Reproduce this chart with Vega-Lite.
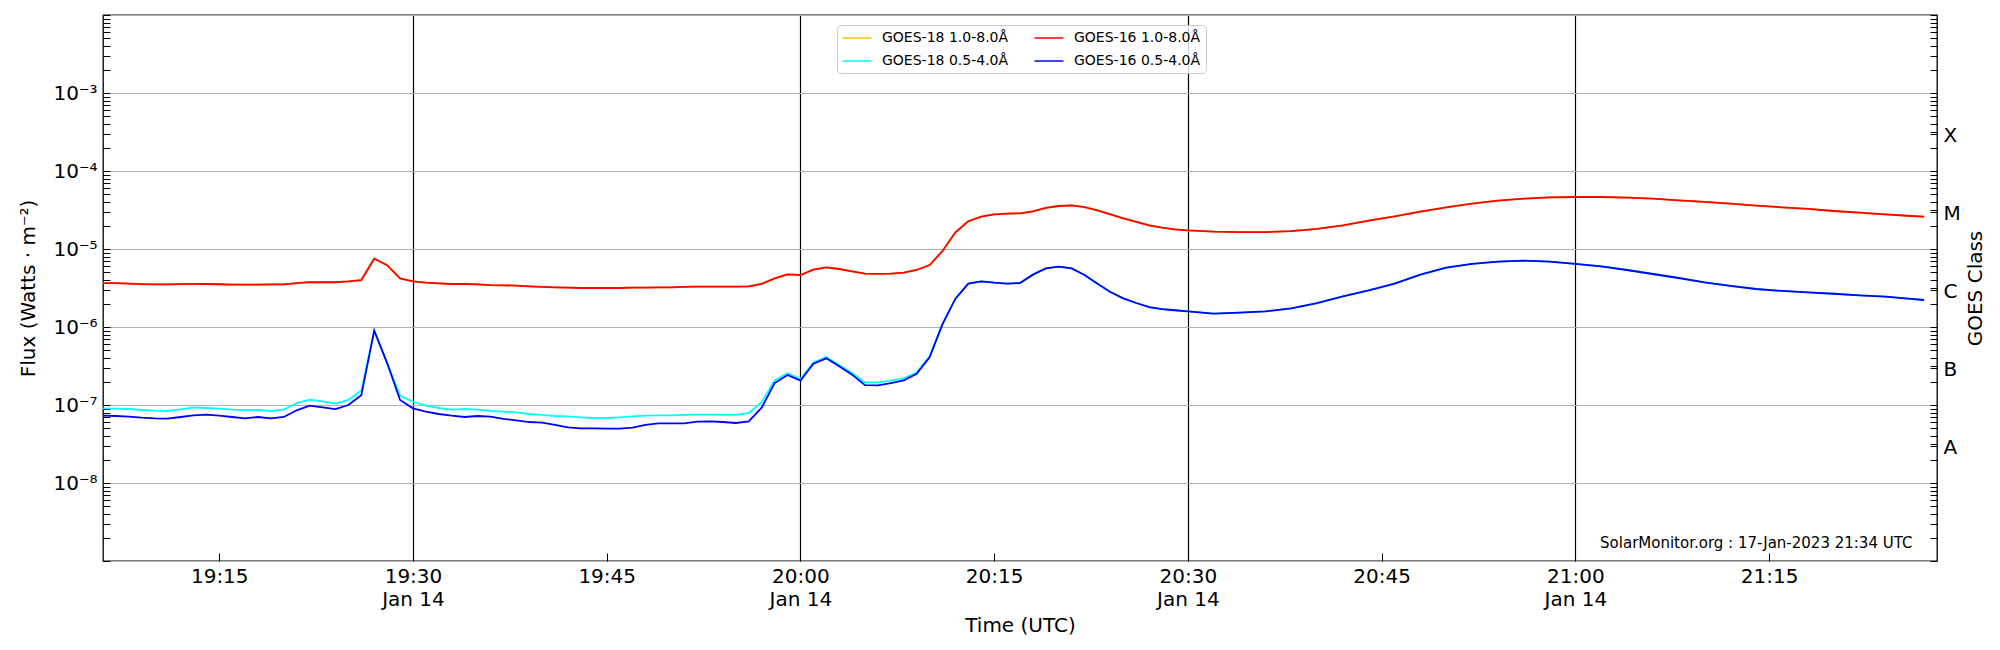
{
  "$schema": "https://vega.github.io/schema/vega-lite/v6.json",
  "description": "GOES X-ray flux, 14 Jan 2023 (SolarMonitor.org)",
  "width": 1834,
  "height": 546,
  "autosize": {"type": "none"},
  "padding": {"left": 103, "top": 15, "right": 63, "bottom": 89},
  "background": "white",
  "data": {
    "values": [
      {"t": "2023-01-14T19:06:00Z", "l16": 3.65e-6, "s16": 7.29e-8, "l18": 3.65e-6, "s18": 9.06e-8},
      {"t": "2023-01-14T19:07:00Z", "l16": 3.65e-6, "s16": 7.23e-8, "l18": 3.65e-6, "s18": 8.97e-8},
      {"t": "2023-01-14T19:08:00Z", "l16": 3.6e-6, "s16": 7.08e-8, "l18": 3.6e-6, "s18": 8.88e-8},
      {"t": "2023-01-14T19:09:00Z", "l16": 3.55e-6, "s16": 6.88e-8, "l18": 3.55e-6, "s18": 8.63e-8},
      {"t": "2023-01-14T19:10:00Z", "l16": 3.52e-6, "s16": 6.75e-8, "l18": 3.52e-6, "s18": 8.46e-8},
      {"t": "2023-01-14T19:11:00Z", "l16": 3.52e-6, "s16": 6.68e-8, "l18": 3.52e-6, "s18": 8.38e-8},
      {"t": "2023-01-14T19:12:00Z", "l16": 3.55e-6, "s16": 7.02e-8, "l18": 3.55e-6, "s18": 8.8e-8},
      {"t": "2023-01-14T19:13:00Z", "l16": 3.57e-6, "s16": 7.37e-8, "l18": 3.57e-6, "s18": 9.33e-8},
      {"t": "2023-01-14T19:14:00Z", "l16": 3.56e-6, "s16": 7.52e-8, "l18": 3.56e-6, "s18": 9.15e-8},
      {"t": "2023-01-14T19:15:00Z", "l16": 3.53e-6, "s16": 7.29e-8, "l18": 3.53e-6, "s18": 8.97e-8},
      {"t": "2023-01-14T19:16:00Z", "l16": 3.5e-6, "s16": 7.02e-8, "l18": 3.5e-6, "s18": 8.7e-8},
      {"t": "2023-01-14T19:17:00Z", "l16": 3.5e-6, "s16": 6.75e-8, "l18": 3.5e-6, "s18": 8.63e-8},
      {"t": "2023-01-14T19:18:00Z", "l16": 3.5e-6, "s16": 7.02e-8, "l18": 3.5e-6, "s18": 8.63e-8},
      {"t": "2023-01-14T19:19:00Z", "l16": 3.52e-6, "s16": 6.75e-8, "l18": 3.52e-6, "s18": 8.38e-8},
      {"t": "2023-01-14T19:20:00Z", "l16": 3.52e-6, "s16": 7.02e-8, "l18": 3.52e-6, "s18": 8.7e-8},
      {"t": "2023-01-14T19:21:00Z", "l16": 3.65e-6, "s16": 8.55e-8, "l18": 3.65e-6, "s18": 1.06e-7},
      {"t": "2023-01-14T19:22:00Z", "l16": 3.75e-6, "s16": 9.8e-8, "l18": 3.75e-6, "s18": 1.17e-7},
      {"t": "2023-01-14T19:23:00Z", "l16": 3.75e-6, "s16": 9.33e-8, "l18": 3.75e-6, "s18": 1.11e-7},
      {"t": "2023-01-14T19:24:00Z", "l16": 3.75e-6, "s16": 8.88e-8, "l18": 3.75e-6, "s18": 1.04e-7},
      {"t": "2023-01-14T19:25:00Z", "l16": 3.85e-6, "s16": 1.0e-7, "l18": 3.85e-6, "s18": 1.16e-7},
      {"t": "2023-01-14T19:26:00Z", "l16": 4.0e-6, "s16": 1.33e-7, "l18": 4.0e-6, "s18": 1.53e-7},
      {"t": "2023-01-14T19:27:00Z", "l16": 7.5e-6, "s16": 8.97e-7, "l18": 7.5e-6, "s18": 8.97e-7},
      {"t": "2023-01-14T19:28:00Z", "l16": 6.2e-6, "s16": 3.45e-7, "l18": 6.2e-6, "s18": 3.45e-7},
      {"t": "2023-01-14T19:29:00Z", "l16": 4.2e-6, "s16": 1.16e-7, "l18": 4.2e-6, "s18": 1.32e-7},
      {"t": "2023-01-14T19:30:00Z", "l16": 3.85e-6, "s16": 9.06e-8, "l18": 3.85e-6, "s18": 1.1e-7},
      {"t": "2023-01-14T19:31:00Z", "l16": 3.7e-6, "s16": 8.22e-8, "l18": 3.7e-6, "s18": 9.8e-8},
      {"t": "2023-01-14T19:32:00Z", "l16": 3.63e-6, "s16": 7.67e-8, "l18": 3.63e-6, "s18": 9.15e-8},
      {"t": "2023-01-14T19:33:00Z", "l16": 3.56e-6, "s16": 7.29e-8, "l18": 3.56e-6, "s18": 8.7e-8},
      {"t": "2023-01-14T19:34:00Z", "l16": 3.56e-6, "s16": 7.02e-8, "l18": 3.56e-6, "s18": 8.88e-8},
      {"t": "2023-01-14T19:35:00Z", "l16": 3.52e-6, "s16": 7.23e-8, "l18": 3.52e-6, "s18": 8.7e-8},
      {"t": "2023-01-14T19:36:00Z", "l16": 3.45e-6, "s16": 7.08e-8, "l18": 3.45e-6, "s18": 8.38e-8},
      {"t": "2023-01-14T19:37:00Z", "l16": 3.42e-6, "s16": 6.62e-8, "l18": 3.42e-6, "s18": 8.22e-8},
      {"t": "2023-01-14T19:38:00Z", "l16": 3.39e-6, "s16": 6.36e-8, "l18": 3.39e-6, "s18": 8.05e-8},
      {"t": "2023-01-14T19:39:00Z", "l16": 3.32e-6, "s16": 6.05e-8, "l18": 3.32e-6, "s18": 7.67e-8},
      {"t": "2023-01-14T19:40:00Z", "l16": 3.26e-6, "s16": 5.94e-8, "l18": 3.26e-6, "s18": 7.45e-8},
      {"t": "2023-01-14T19:41:00Z", "l16": 3.22e-6, "s16": 5.55e-8, "l18": 3.22e-6, "s18": 7.23e-8},
      {"t": "2023-01-14T19:42:00Z", "l16": 3.19e-6, "s16": 5.18e-8, "l18": 3.19e-6, "s18": 7.16e-8},
      {"t": "2023-01-14T19:43:00Z", "l16": 3.16e-6, "s16": 5.03e-8, "l18": 3.16e-6, "s18": 6.95e-8},
      {"t": "2023-01-14T19:44:00Z", "l16": 3.16e-6, "s16": 5.03e-8, "l18": 3.16e-6, "s18": 6.81e-8},
      {"t": "2023-01-14T19:45:00Z", "l16": 3.16e-6, "s16": 4.98e-8, "l18": 3.16e-6, "s18": 6.81e-8},
      {"t": "2023-01-14T19:46:00Z", "l16": 3.16e-6, "s16": 4.98e-8, "l18": 3.16e-6, "s18": 6.95e-8},
      {"t": "2023-01-14T19:47:00Z", "l16": 3.19e-6, "s16": 5.14e-8, "l18": 3.19e-6, "s18": 7.16e-8},
      {"t": "2023-01-14T19:48:00Z", "l16": 3.19e-6, "s16": 5.55e-8, "l18": 3.19e-6, "s18": 7.29e-8},
      {"t": "2023-01-14T19:49:00Z", "l16": 3.22e-6, "s16": 5.82e-8, "l18": 3.22e-6, "s18": 7.38e-8},
      {"t": "2023-01-14T19:50:00Z", "l16": 3.22e-6, "s16": 5.82e-8, "l18": 3.22e-6, "s18": 7.38e-8},
      {"t": "2023-01-14T19:51:00Z", "l16": 3.26e-6, "s16": 5.82e-8, "l18": 3.26e-6, "s18": 7.45e-8},
      {"t": "2023-01-14T19:52:00Z", "l16": 3.29e-6, "s16": 6.11e-8, "l18": 3.29e-6, "s18": 7.52e-8},
      {"t": "2023-01-14T19:53:00Z", "l16": 3.29e-6, "s16": 6.17e-8, "l18": 3.29e-6, "s18": 7.52e-8},
      {"t": "2023-01-14T19:54:00Z", "l16": 3.29e-6, "s16": 6.05e-8, "l18": 3.29e-6, "s18": 7.45e-8},
      {"t": "2023-01-14T19:55:00Z", "l16": 3.29e-6, "s16": 5.88e-8, "l18": 3.29e-6, "s18": 7.45e-8},
      {"t": "2023-01-14T19:56:00Z", "l16": 3.32e-6, "s16": 6.17e-8, "l18": 3.32e-6, "s18": 7.89e-8},
      {"t": "2023-01-14T19:57:00Z", "l16": 3.56e-6, "s16": 9.24e-8, "l18": 3.56e-6, "s18": 1.08e-7},
      {"t": "2023-01-14T19:58:00Z", "l16": 4.21e-6, "s16": 1.91e-7, "l18": 4.21e-6, "s18": 2.07e-7},
      {"t": "2023-01-14T19:59:00Z", "l16": 4.73e-6, "s16": 2.43e-7, "l18": 4.73e-6, "s18": 2.55e-7},
      {"t": "2023-01-14T20:00:00Z", "l16": 4.64e-6, "s16": 2.05e-7, "l18": 4.64e-6, "s18": 2.15e-7},
      {"t": "2023-01-14T20:01:00Z", "l16": 5.43e-6, "s16": 3.39e-7, "l18": 5.43e-6, "s18": 3.52e-7},
      {"t": "2023-01-14T20:02:00Z", "l16": 5.82e-6, "s16": 3.97e-7, "l18": 5.82e-6, "s18": 4.12e-7},
      {"t": "2023-01-14T20:03:00Z", "l16": 5.54e-6, "s16": 3.13e-7, "l18": 5.54e-6, "s18": 3.26e-7},
      {"t": "2023-01-14T20:04:00Z", "l16": 5.17e-6, "s16": 2.45e-7, "l18": 5.17e-6, "s18": 2.57e-7},
      {"t": "2023-01-14T20:05:00Z", "l16": 4.83e-6, "s16": 1.8e-7, "l18": 4.83e-6, "s18": 1.95e-7},
      {"t": "2023-01-14T20:06:00Z", "l16": 4.79e-6, "s16": 1.79e-7, "l18": 4.79e-6, "s18": 1.95e-7},
      {"t": "2023-01-14T20:07:00Z", "l16": 4.83e-6, "s16": 1.91e-7, "l18": 4.83e-6, "s18": 2.05e-7},
      {"t": "2023-01-14T20:08:00Z", "l16": 4.98e-6, "s16": 2.07e-7, "l18": 4.98e-6, "s18": 2.2e-7},
      {"t": "2023-01-14T20:09:00Z", "l16": 5.38e-6, "s16": 2.52e-7, "l18": 5.38e-6, "s18": 2.62e-7},
      {"t": "2023-01-14T20:10:00Z", "l16": 6.23e-6, "s16": 4.08e-7, "l18": 6.23e-6, "s18": 4.2e-7},
      {"t": "2023-01-14T20:11:00Z", "l16": 9.42e-6, "s16": 1.09e-6, "l18": 9.42e-6, "s18": 1.09e-6},
      {"t": "2023-01-14T20:12:00Z", "l16": 1.64e-5, "s16": 2.31e-6, "l18": 1.64e-5, "s18": 2.31e-6},
      {"t": "2023-01-14T20:13:00Z", "l16": 2.27e-5, "s16": 3.59e-6, "l18": 2.27e-5, "s18": 3.59e-6},
      {"t": "2023-01-14T20:14:00Z", "l16": 2.6e-5, "s16": 3.85e-6, "l18": 2.6e-5, "s18": 3.85e-6},
      {"t": "2023-01-14T20:15:00Z", "l16": 2.78e-5, "s16": 3.7e-6, "l18": 2.78e-5, "s18": 3.7e-6},
      {"t": "2023-01-14T20:16:00Z", "l16": 2.84e-5, "s16": 3.59e-6, "l18": 2.84e-5, "s18": 3.59e-6},
      {"t": "2023-01-14T20:17:00Z", "l16": 2.87e-5, "s16": 3.66e-6, "l18": 2.87e-5, "s18": 3.66e-6},
      {"t": "2023-01-14T20:18:00Z", "l16": 3.04e-5, "s16": 4.69e-6, "l18": 3.04e-5, "s18": 4.69e-6},
      {"t": "2023-01-14T20:19:00Z", "l16": 3.36e-5, "s16": 5.65e-6, "l18": 3.36e-5, "s18": 5.65e-6},
      {"t": "2023-01-14T20:20:00Z", "l16": 3.56e-5, "s16": 5.94e-6, "l18": 3.56e-5, "s18": 5.94e-6},
      {"t": "2023-01-14T20:21:00Z", "l16": 3.63e-5, "s16": 5.65e-6, "l18": 3.63e-5, "s18": 5.65e-6},
      {"t": "2023-01-14T20:22:00Z", "l16": 3.45e-5, "s16": 4.64e-6, "l18": 3.45e-5, "s18": 4.64e-6},
      {"t": "2023-01-14T20:23:00Z", "l16": 3.13e-5, "s16": 3.59e-6, "l18": 3.13e-5, "s18": 3.59e-6},
      {"t": "2023-01-14T20:24:00Z", "l16": 2.78e-5, "s16": 2.81e-6, "l18": 2.78e-5, "s18": 2.81e-6},
      {"t": "2023-01-14T20:25:00Z", "l16": 2.47e-5, "s16": 2.33e-6, "l18": 2.47e-5, "s18": 2.33e-6},
      {"t": "2023-01-14T20:26:00Z", "l16": 2.22e-5, "s16": 2.03e-6, "l18": 2.22e-5, "s18": 2.03e-6},
      {"t": "2023-01-14T20:27:00Z", "l16": 2.01e-5, "s16": 1.8e-6, "l18": 2.01e-5, "s18": 1.8e-6},
      {"t": "2023-01-14T20:28:00Z", "l16": 1.88e-5, "s16": 1.7e-6, "l18": 1.88e-5, "s18": 1.7e-6},
      {"t": "2023-01-14T20:29:00Z", "l16": 1.79e-5, "s16": 1.64e-6, "l18": 1.79e-5, "s18": 1.64e-6},
      {"t": "2023-01-14T20:30:00Z", "l16": 1.73e-5, "s16": 1.59e-6, "l18": 1.73e-5, "s18": 1.59e-6},
      {"t": "2023-01-14T20:32:00Z", "l16": 1.67e-5, "s16": 1.48e-6, "l18": 1.67e-5, "s18": 1.48e-6},
      {"t": "2023-01-14T20:34:00Z", "l16": 1.65e-5, "s16": 1.53e-6, "l18": 1.65e-5, "s18": 1.53e-6},
      {"t": "2023-01-14T20:36:00Z", "l16": 1.65e-5, "s16": 1.59e-6, "l18": 1.65e-5, "s18": 1.59e-6},
      {"t": "2023-01-14T20:38:00Z", "l16": 1.7e-5, "s16": 1.73e-6, "l18": 1.7e-5, "s18": 1.73e-6},
      {"t": "2023-01-14T20:40:00Z", "l16": 1.81e-5, "s16": 2.03e-6, "l18": 1.81e-5, "s18": 2.03e-6},
      {"t": "2023-01-14T20:42:00Z", "l16": 2.01e-5, "s16": 2.47e-6, "l18": 2.01e-5, "s18": 2.47e-6},
      {"t": "2023-01-14T20:44:00Z", "l16": 2.31e-5, "s16": 2.95e-6, "l18": 2.31e-5, "s18": 2.95e-6},
      {"t": "2023-01-14T20:46:00Z", "l16": 2.62e-5, "s16": 3.59e-6, "l18": 2.62e-5, "s18": 3.59e-6},
      {"t": "2023-01-14T20:48:00Z", "l16": 3.01e-5, "s16": 4.69e-6, "l18": 3.01e-5, "s18": 4.69e-6},
      {"t": "2023-01-14T20:50:00Z", "l16": 3.42e-5, "s16": 5.77e-6, "l18": 3.42e-5, "s18": 5.77e-6},
      {"t": "2023-01-14T20:52:00Z", "l16": 3.81e-5, "s16": 6.43e-6, "l18": 3.81e-5, "s18": 6.43e-6},
      {"t": "2023-01-14T20:54:00Z", "l16": 4.17e-5, "s16": 6.89e-6, "l18": 4.17e-5, "s18": 6.89e-6},
      {"t": "2023-01-14T20:56:00Z", "l16": 4.42e-5, "s16": 7.08e-6, "l18": 4.42e-5, "s18": 7.08e-6},
      {"t": "2023-01-14T20:58:00Z", "l16": 4.6e-5, "s16": 6.89e-6, "l18": 4.6e-5, "s18": 6.89e-6},
      {"t": "2023-01-14T21:00:00Z", "l16": 4.64e-5, "s16": 6.43e-6, "l18": 4.64e-5, "s18": 6.43e-6},
      {"t": "2023-01-14T21:02:00Z", "l16": 4.64e-5, "s16": 6.0e-6, "l18": 4.64e-5, "s18": 6.0e-6},
      {"t": "2023-01-14T21:04:00Z", "l16": 4.55e-5, "s16": 5.38e-6, "l18": 4.55e-5, "s18": 5.38e-6},
      {"t": "2023-01-14T21:06:00Z", "l16": 4.42e-5, "s16": 4.78e-6, "l18": 4.42e-5, "s18": 4.78e-6},
      {"t": "2023-01-14T21:08:00Z", "l16": 4.21e-5, "s16": 4.25e-6, "l18": 4.21e-5, "s18": 4.25e-6},
      {"t": "2023-01-14T21:10:00Z", "l16": 4.01e-5, "s16": 3.74e-6, "l18": 4.01e-5, "s18": 3.74e-6},
      {"t": "2023-01-14T21:12:00Z", "l16": 3.81e-5, "s16": 3.36e-6, "l18": 3.81e-5, "s18": 3.36e-6},
      {"t": "2023-01-14T21:14:00Z", "l16": 3.6e-5, "s16": 3.07e-6, "l18": 3.6e-5, "s18": 3.07e-6},
      {"t": "2023-01-14T21:16:00Z", "l16": 3.42e-5, "s16": 2.9e-6, "l18": 3.42e-5, "s18": 2.9e-6},
      {"t": "2023-01-14T21:18:00Z", "l16": 3.26e-5, "s16": 2.78e-6, "l18": 3.26e-5, "s18": 2.78e-6},
      {"t": "2023-01-14T21:20:00Z", "l16": 3.07e-5, "s16": 2.67e-6, "l18": 3.07e-5, "s18": 2.67e-6},
      {"t": "2023-01-14T21:22:00Z", "l16": 2.92e-5, "s16": 2.55e-6, "l18": 2.92e-5, "s18": 2.55e-6},
      {"t": "2023-01-14T21:24:00Z", "l16": 2.78e-5, "s16": 2.45e-6, "l18": 2.78e-5, "s18": 2.45e-6},
      {"t": "2023-01-14T21:26:00Z", "l16": 2.65e-5, "s16": 2.29e-6, "l18": 2.65e-5, "s18": 2.29e-6},
      {"t": "2023-01-14T21:27:00Z", "l16": 2.6e-5, "s16": 2.22e-6, "l18": 2.6e-5, "s18": 2.22e-6}
    ]
  },
  "encoding": {
    "x": {
      "field": "t",
      "type": "temporal",
      "scale": {"type": "utc", "domain": [
        {"year": 2023, "month": 1, "date": 14, "hours": 19, "minutes": 6, "utc": true},
        {"year": 2023, "month": 1, "date": 14, "hours": 21, "minutes": 28, "utc": true}
      ]},
      "axis": {
        "orient": "bottom",
        "values": [
          {"year": 2023, "month": 1, "date": 14, "hours": 19, "minutes": 15, "utc": true},
          {"year": 2023, "month": 1, "date": 14, "hours": 19, "minutes": 30, "utc": true},
          {"year": 2023, "month": 1, "date": 14, "hours": 19, "minutes": 45, "utc": true},
          {"year": 2023, "month": 1, "date": 14, "hours": 20, "minutes": 0, "utc": true},
          {"year": 2023, "month": 1, "date": 14, "hours": 20, "minutes": 15, "utc": true},
          {"year": 2023, "month": 1, "date": 14, "hours": 20, "minutes": 30, "utc": true},
          {"year": 2023, "month": 1, "date": 14, "hours": 20, "minutes": 45, "utc": true},
          {"year": 2023, "month": 1, "date": 14, "hours": 21, "minutes": 0, "utc": true},
          {"year": 2023, "month": 1, "date": 14, "hours": 21, "minutes": 15, "utc": true}
        ],
        "labelExpr": "utcminutes(datum.value) % 30 == 0 ? [utcFormat(datum.value, '%H:%M'), utcFormat(datum.value, '%b %d')] : utcFormat(datum.value, '%H:%M')",
        "labelOverlap": false,
        "labelFlush": false,
        "labelLineHeight": 23,
        "tickSize": -8,
        "labelPadding": 13,
        "grid": true,
        "gridColor": "black",
        "gridWidth": 1.2,
        "gridOpacity": {"condition": {"test": "utcminutes(datum.value) % 30 == 0", "value": 1}, "value": 0},
        "title": "Time (UTC)",
        "titleY": 64,
        "titleBaseline": "middle"
      }
    }
  },
  "layer": [
    {
      "transform": [{"fold": ["l18", "s18"], "as": ["series", "flux"]}],
      "mark": {"type": "line", "strokeWidth": 1.8},
      "encoding": {
        "y": {
          "field": "flux",
          "type": "quantitative",
          "scale": {"type": "log", "domain": [1e-9, 1e-2], "nice": false},
          "axis": {
            "orient": "left",
            "values": [1e-9, 2e-9, 3e-9, 4e-9, 5e-9, 6e-9, 7e-9, 8e-9, 9e-9,
                       1e-8, 2e-8, 3e-8, 4e-8, 5e-8, 6e-8, 7e-8, 8e-8, 9e-8,
                       1e-7, 2e-7, 3e-7, 4e-7, 5e-7, 6e-7, 7e-7, 8e-7, 9e-7,
                       1e-6, 2e-6, 3e-6, 4e-6, 5e-6, 6e-6, 7e-6, 8e-6, 9e-6,
                       1e-5, 2e-5, 3e-5, 4e-5, 5e-5, 6e-5, 7e-5, 8e-5, 9e-5,
                       1e-4, 2e-4, 3e-4, 4e-4, 5e-4, 6e-4, 7e-4, 8e-4, 9e-4,
                       1e-3, 2e-3, 3e-3, 4e-3, 5e-3, 6e-3, 7e-3, 8e-3, 9e-3, 1e-2],
            "labelExpr": "abs(log(datum.value)/LN10 - round(log(datum.value)/LN10)) < 0.001 && round(log(datum.value)/LN10) >= -8 && round(log(datum.value)/LN10) <= -3 ? '10⁻' + ['⁰','¹','²','³','⁴','⁵','⁶','⁷','⁸','⁹'][-round(log(datum.value)/LN10)] : ''",
            "labelOverlap": false,
            "labelFlush": false,
            "tickSize": -7,
            "labelPadding": 13,
            "grid": true,
            "gridColor": "#b0b0b0",
            "gridWidth": 1.2,
            "gridOpacity": {"condition": {"test": "abs(log(datum.value)/LN10 - round(log(datum.value)/LN10)) < 0.001", "value": 1}, "value": 0},
            "title": "Flux (Watts · m⁻²)",
            "titleAngle": 270,
            "titleX": -75,
            "titleBaseline": "middle"
          }
        },
        "color": {
          "field": "series",
          "type": "nominal",
          "scale": {"domain": ["l18", "s18", "l16", "s16"], "range": ["#ffc000", "#00ffff", "#ff0000", "#0000ff"]},
          "legend": {
            "orient": "none",
            "legendX": 734,
            "legendY": 10,
            "columns": 2,
            "title": null,
            "labelExpr": "{'l18': 'GOES-18 1.0-8.0Å', 'l16': 'GOES-16 1.0-8.0Å', 's18': 'GOES-18 0.5-4.0Å', 's16': 'GOES-16 0.5-4.0Å'}[datum.label]",
            "labelFont": "DejaVu Sans",
            "labelFontSize": 14,
            "labelColor": "black",
            "labelLimit": 300,
            "symbolType": "M-2,0H2",
            "symbolSize": 210,
            "symbolStrokeWidth": 1.5,
            "symbolOffset": 7,
            "labelOffset": 17,
            "columnPadding": 22,
            "rowPadding": 8,
            "padding": 5,
            "strokeColor": "#cccccc",
            "fillColor": "rgba(255,255,255,0.8)",
            "cornerRadius": 4
          }
        }
      }
    },
    {
      "transform": [{"fold": ["l16", "s16"], "as": ["series", "flux"]}],
      "mark": {"type": "line", "strokeWidth": 1.8},
      "encoding": {
        "y": {
          "field": "flux",
          "type": "quantitative",
          "scale": {"type": "log", "domain": [1e-9, 1e-2], "nice": false},
          "axis": null
        },
        "color": {
          "field": "series",
          "type": "nominal",
          "scale": {"domain": ["l18", "s18", "l16", "s16"], "range": ["#ffc000", "#00ffff", "#ff0000", "#0000ff"]}
        }
      }
    },
    {
      "data": {"values": [{"t": "2023-01-14T21:26:06Z", "flux": 1.47e-9, "note": "SolarMonitor.org : 17-Jan-2023 21:34 UTC"}]},
      "mark": {"type": "text", "align": "right", "baseline": "alphabetic", "font": "DejaVu Sans", "fontSize": 15, "color": "black"},
      "encoding": {
        "y": {
          "field": "flux",
          "type": "quantitative",
          "scale": {"type": "log", "domain": [1e-9, 1e-2], "nice": false},
          "axis": {
            "orient": "right",
            "values": [1e-9, 2e-9, 3e-9, 4e-9, 5e-9, 6e-9, 7e-9, 8e-9, 9e-9,
                       1e-8, 2e-8, 3e-8, 4e-8, 5e-8, 6e-8, 7e-8, 8e-8, 9e-8,
                       1e-7, 2e-7, 3e-7, 4e-7, 5e-7, 6e-7, 7e-7, 8e-7, 9e-7,
                       1e-6, 2e-6, 3e-6, 4e-6, 5e-6, 6e-6, 7e-6, 8e-6, 9e-6,
                       1e-5, 2e-5, 3e-5, 4e-5, 5e-5, 6e-5, 7e-5, 8e-5, 9e-5,
                       1e-4, 2e-4, 3e-4, 4e-4, 5e-4, 6e-4, 7e-4, 8e-4, 9e-4,
                       1e-3, 2e-3, 3e-3, 4e-3, 5e-3, 6e-3, 7e-3, 8e-3, 9e-3, 1e-2,
                       3.1623e-8, 3.1623e-7, 3.1623e-6, 3.1623e-5, 3.1623e-4],
            "labelExpr": "abs(log(datum.value)/LN10 - floor(log(datum.value)/LN10) - 0.5) < 0.001 ? ['X','M','C','B','A'][-4 - floor(log(datum.value)/LN10)] : ''",
            "labelOverlap": false,
            "labelFlush": false,
            "labelOffset": 4,
            "tickSize": -7,
            "labelPadding": 13,
            "grid": false,
            "title": "GOES Class",
            "titleAngle": 270,
            "titleX": 38,
            "titleBaseline": "middle"
          }
        },
        "text": {"field": "note", "type": "nominal"}
      }
    }
  ],
  "resolve": {"axis": {"y": "independent"}},
  "config": {
    "font": "DejaVu Sans",
    "view": {"stroke": "black", "strokeWidth": 1.3},
    "axis": {
      "domain": false,
      "labelFont": "DejaVu Sans",
      "labelFontSize": 20,
      "labelColor": "black",
      "titleFont": "DejaVu Sans",
      "titleFontSize": 20,
      "titleFontWeight": "normal",
      "titleColor": "black",
      "tickColor": "black",
      "tickWidth": 1
    }
  }
}
